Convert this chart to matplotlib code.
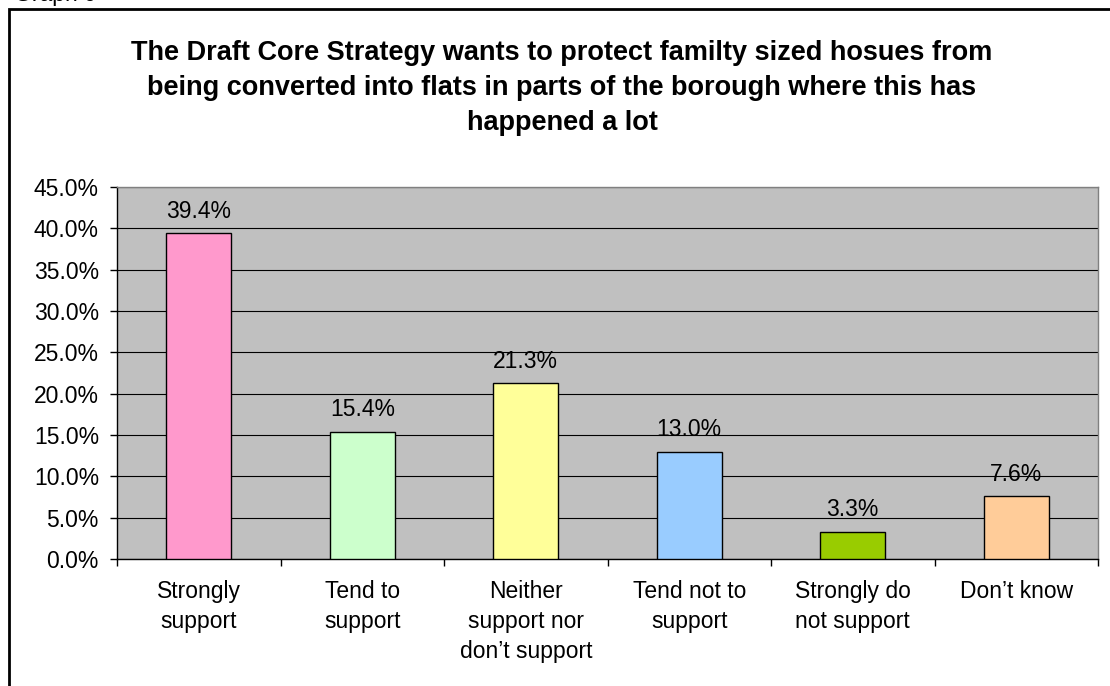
import matplotlib.pyplot as plt
from matplotlib.patches import Rectangle
from matplotlib.ticker import PercentFormatter

plt.rcParams['font.family'] = ['Liberation Sans', 'DejaVu Sans']

categories = ['Strongly\nsupport', 'Tend to\nsupport', 'Neither\nsupport nor\ndon\u2019t support',
              'Tend not to\nsupport', 'Strongly do\nnot support', 'Don\u2019t know']
values = [39.4, 15.4, 21.3, 13.0, 3.3, 7.6]
colors = ['#FF99CC', '#CCFFCC', '#FFFF99', '#99CCFF', '#99CC00', '#FFCC99']
title = ('The Draft Core Strategy wants to protect familty sized hosues from\n'
         'being converted into flats in parts of the borough where this has\n'
         'happened a lot')

W, H = 1110, 686
fig = plt.figure(figsize=(W / 100, H / 100), dpi=100)

# chart border (runs off the right and bottom of the page)
fig.patches.append(Rectangle((9 / W, -0.1), 1.2, (H - 9) / H + 0.1, transform=fig.transFigure,
                             fill=False, edgecolor='black', linewidth=2))
fig.text(14 / W, 1 - 0.5 / H, 'Graph 9', fontsize=16.5, va='baseline')

fig.text(562 / W, 1 - 88 / H, title, ha='center', va='center', fontsize=19.5,
         fontweight='bold', linespacing=1.47)

ax = fig.add_axes([117 / W, (H - 559) / H, (1098 - 117) / W, (559 - 187) / H])
ax.set_facecolor('#C0C0C0')
x = range(len(values))
bars = ax.bar(x, values, width=0.4, color=colors, edgecolor='black', linewidth=1, zorder=3)
for b, v in zip(bars, values):
    ax.text(b.get_x() + b.get_width() / 2, v + 1.85, f'{v:.1f}%', ha='center', va='baseline',
            fontsize=16.5, zorder=4)

ax.set_xlim(-0.5, len(values) - 0.5)
ax.set_ylim(0, 45)
ax.set_yticks([i * 5 for i in range(10)])
ax.yaxis.set_major_formatter(PercentFormatter(decimals=1))
ax.grid(axis='y', color='black', linewidth=0.8, zorder=1)
ax.set_xticks(list(x))
ax.set_xticklabels(categories, fontsize=16.5, linespacing=1.4, va='top')
ax.set_xticks([i - 0.5 for i in range(len(values) + 1)], minor=True)
ax.tick_params(axis='x', which='major', length=0, pad=15)
ax.tick_params(axis='x', which='minor', length=5, width=1)
ax.tick_params(axis='y', length=5, width=1, labelsize=16.5, pad=8)
ax.spines['top'].set_color('#808080')
ax.spines['right'].set_color('#808080')
for s in ax.spines.values():
    s.set_linewidth(1)

fig.savefig('out.png', dpi=100)
